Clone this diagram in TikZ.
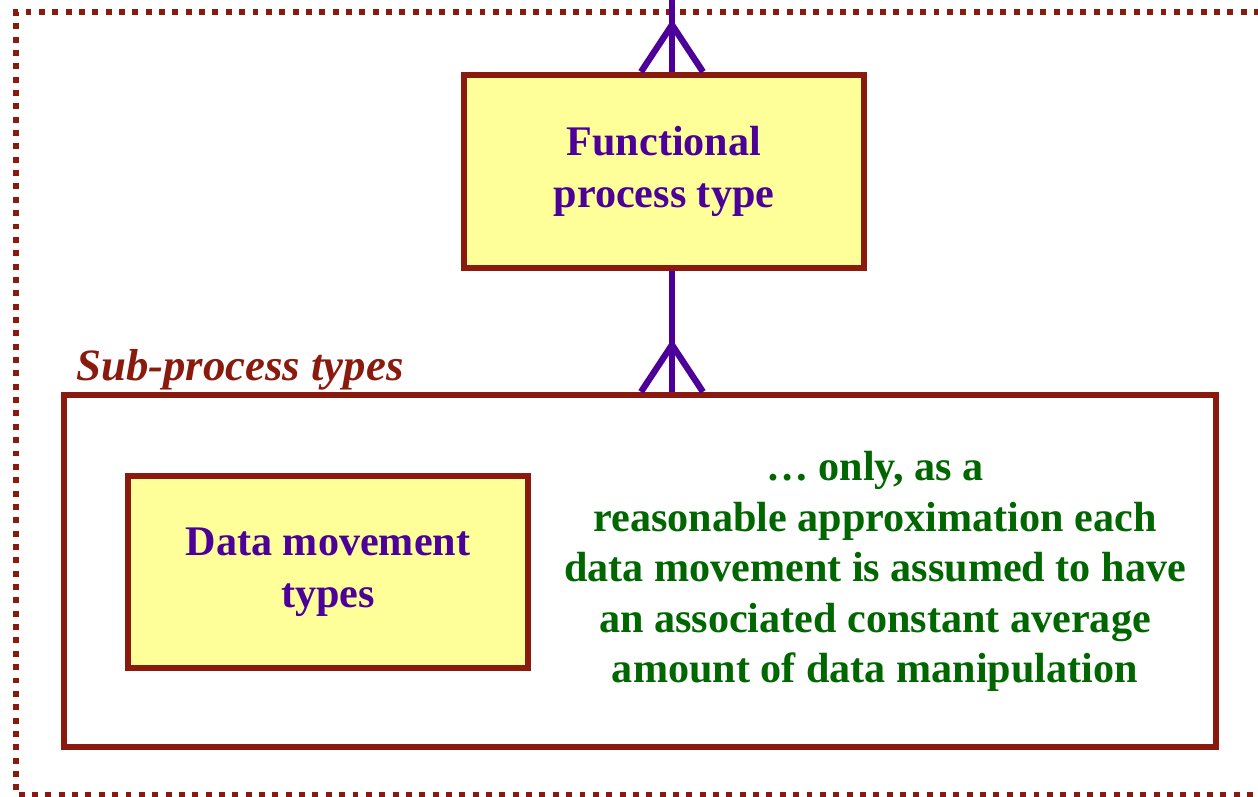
\documentclass[tikz,border=0pt]{standalone}
\usepackage{fontspec}
\setmainfont{Liberation Serif}
\definecolor{brickred}{RGB}{139,26,14}
\definecolor{paleyellow}{RGB}{255,255,153}
\definecolor{linkpurple}{RGB}{76,0,153}
\definecolor{notegreen}{RGB}{0,102,0}
\tikzset{
  typebox/.style={draw=brickred, fill=paleyellow, line width=3.6pt, text=linkpurple,
    font=\fontsize{24}{29.5}\selectfont\bfseries, align=center},
  link/.style={draw=linkpurple, line width=3.6pt},
}
% crow's foot sitting on a box edge
\newcommand{\crowfoot}[1]{\draw[link] (#1) ++(-31,0) -- ++(31,-47) -- ++(31,47);}

\begin{document}
\begin{tikzpicture}[x=0.02cm, y=-0.02cm]
    \clip (0,0) rectangle (1258,796);
    % Dotted outer frame (runs off the right edge)
    \draw[brickred, line width=3.4pt, dash pattern=on 3.4pt off 4.2pt]
      (1300,12) -- (16,12) -- (16,795) -- (1300,795);
    % Boxes
    \node[typebox, minimum width=8cm, minimum height=3.86cm] (func) at (664,171.5)
      {Functional\\process type};
    \node[draw=brickred, line width=3.6pt, minimum width=23.04cm, minimum height=7.04cm]
      (sub) at (640,571) {};
    \node[anchor=base west, text=brickred, font=\fontsize{25.5}{30}\selectfont\bfseries\itshape]
      (subtitle) at (70,380) {Sub-process types};
    \node[typebox, minimum width=8cm, minimum height=3.84cm] (move) at (328,572)
      {Data movement\\types};
    \node[text=notegreen, align=center, font=\fontsize{24}{28.8}\selectfont\bfseries]
      (note) at (875,571.5) {… only, as a\\reasonable approximation each\\data movement is assumed to have\\an associated constant average\\amount of data manipulation};
    % Connectors
    \coordinate (top) at (672,-10);
    \draw[link] (top) -- (top |- func.north);
    \crowfoot{top |- func.north}
    \draw[link] (top |- func.south) -- (top |- sub.north);
    \crowfoot{top |- sub.north}
\end{tikzpicture}
\end{document}
